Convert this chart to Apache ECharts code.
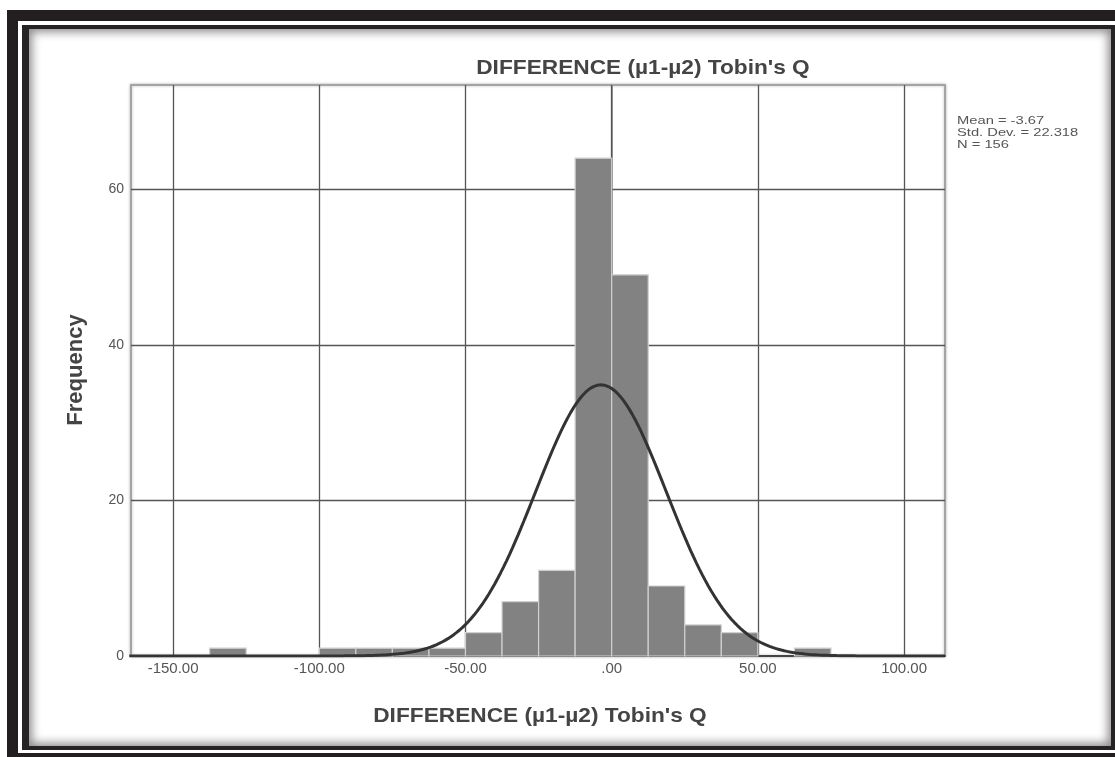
<!DOCTYPE html>
<html>
<head>
<meta charset="utf-8">
<script src="https://cdn.jsdelivr.net/npm/echarts@6/dist/echarts.min.js"></script>
<style>
  html, body { margin: 0; padding: 0; width: 1115px; height: 757px; overflow: hidden; background: #fff; position: relative; }
  .band { position: absolute; }
  #b1 { left: 7px;  top: 10px; width: 1200px; height: 800px; background: #231f20; }
  #b2 { left: 18px; top: 21px; width: 1200px; height: 732px; background: #ffffff; }
  #b3 { left: 22px; top: 25px; width: 1200px; height: 725px; background: #262324; }
  #chart { position: absolute; left: 29px; top: 29px; width: 1082px; height: 717px; background: #fff; }
  #shade { position: absolute; left: 29px; top: 29px; width: 1082px; height: 717px;
           box-shadow: inset 0 0 10px 3px rgba(0,0,0,0.45); pointer-events: none; }
</style>
</head>
<body>
<div class="band" id="b1"></div>
<div class="band" id="b2"></div>
<div class="band" id="b3"></div>
<div id="chart"></div>
<div id="shade"></div>
<script>
// Histogram bins (left edge of each 12.5-wide bin) and their frequencies
const binStarts = [-137.5, -100, -87.5, -75, -62.5, -50, -37.5, -25, -12.5, 0, 12.5, 25, 37.5, 62.5];
const counts    = [1, 1, 1, 1, 1, 3, 7, 11, 64, 49, 9, 4, 3, 1];
const binWidth  = 12.5;

// Summary statistics printed beside the plot
const mean   = -3.67;
const stdDev = 22.318;
const n      = 156;

// Axis ticks
const xTicks = [-150, -100, -50, 0, 50, 100];
const yTicks = [0, 20, 40, 60];
const xRange = [-164.4, 114];
const yRange = [0, 73.4];

const titleText = "DIFFERENCE (\u00b51-\u00b52) Tobin's Q";
const FONT = "'Liberation Sans', Arial, sans-serif";

// Fitted normal curve scaled to the histogram (N * bin width * pdf)
const curve = [];
const peak = n * binWidth / (stdDev * Math.sqrt(2 * Math.PI));
for (let x = Math.floor(xRange[0]); x <= Math.ceil(xRange[1]); x += 1) {
  const z = (x - mean) / stdDev;
  curve.push([x, peak * Math.exp(-0.5 * z * z)]);
}

const chart = echarts.init(document.getElementById('chart'), null, { renderer: 'canvas' });

chart.setOption({
  animation: false,
  grid: {
    left: 102, top: 56, width: 814, height: 571,
    show: true, backgroundColor: '#fff',
    borderColor: '#a4a4a4', borderWidth: 2,
    shadowColor: 'rgba(0,0,0,0.25)', shadowBlur: 3
  },
  xAxis: {
    type: 'value', min: xRange[0], max: xRange[1],
    axisLine: { show: true, onZero: false, lineStyle: { color: '#444', width: 2 } },
    axisTick: { show: false },
    splitLine: { show: false },
    axisLabel: {
      customValues: xTicks,
      formatter: v => (v === 0 ? '.00' : v.toFixed(2)),
      color: '#555', fontSize: 15, fontFamily: FONT, margin: 5
    }
  },
  yAxis: {
    type: 'value', min: yRange[0], max: yRange[1],
    axisLine: { show: true, lineStyle: { color: '#999', width: 2 } },
    axisTick: { show: false },
    splitLine: { show: false },
    axisLabel: {
      customValues: yTicks,
      color: '#555', fontSize: 14, fontFamily: FONT, margin: 7
    }
  },
  graphic: [
    {
      type: 'text', x: 614, y: 39, scaleX: 1.08,
      style: { text: titleText, x: 0, y: 0, textAlign: 'center', textVerticalAlign: 'middle',
               font: 'bold 21px ' + FONT, fill: '#444' }
    },
    {
      type: 'text', x: 511, y: 687, scaleX: 1.08,
      style: { text: titleText, x: 0, y: 0, textAlign: 'center', textVerticalAlign: 'middle',
               font: 'bold 21px ' + FONT, fill: '#444' }
    },
    {
      type: 'text', x: 47, y: 341, rotation: Math.PI / 2,
      style: { text: 'Frequency', x: 0, y: 0, textAlign: 'center', textVerticalAlign: 'middle',
               font: 'bold 22px ' + FONT, fill: '#444' }
    },
    {
      type: 'text', x: 928, y: 86, scaleX: 1.28,
      style: {
        text: 'Mean = ' + mean + '\nStd. Dev. = ' + stdDev + '\nN = ' + n,
        x: 0, y: 0, textAlign: 'left', textVerticalAlign: 'top',
        font: '11.5px ' + FONT, lineHeight: 12, fill: '#555'
      }
    }
  ],
  series: [
    {
      // reference grid lines
      type: 'line', data: [], silent: true,
      markLine: {
        silent: true, symbol: 'none', animation: false,
        label: { show: false },
        lineStyle: { color: '#555', width: 1.3, type: 'solid' },
        data: xTicks.map(v => ({ xAxis: v })).concat(yTicks.filter(v => v > 0).map(v => ({ yAxis: v })))
      }
    },
    {
      type: 'custom', z: 10,
      data: binStarts.map((s, i) => [s, counts[i]]),
      encode: { x: 0, y: 1 },
      renderItem: function (params, api) {
        const x0 = api.value(0);
        const c = api.value(1);
        const p0 = api.coord([x0, 0]);
        const p1 = api.coord([x0 + binWidth, c]);
        return {
          type: 'rect',
          shape: { x: p0[0], y: p1[1], width: p1[0] - p0[0], height: p0[1] - p1[1] },
          style: { fill: '#828282', stroke: '#d0d0d0', lineWidth: 1.2 }
        };
      }
    },
    {
      type: 'line', z: 12, data: curve, showSymbol: false, smooth: false,
      lineStyle: { color: '#333', width: 3 }
    }
  ]
});
</script>
</body>
</html>
